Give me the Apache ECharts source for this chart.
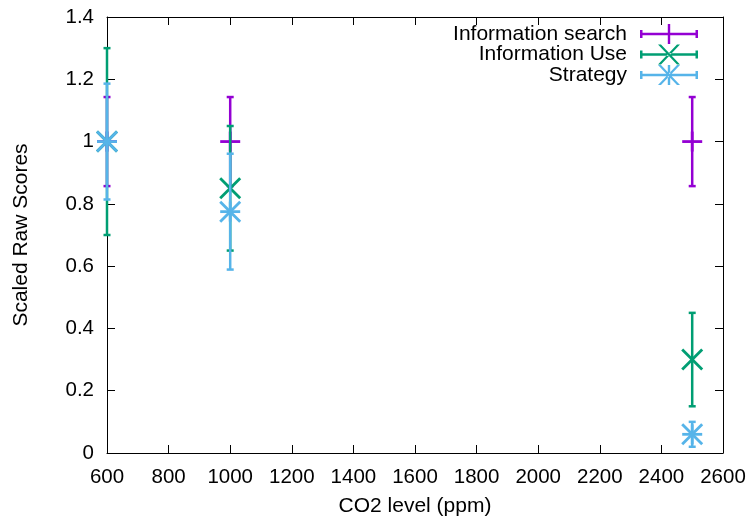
<!DOCTYPE html>
<html>
<head>
<meta charset="utf-8">
<script src="https://cdn.jsdelivr.net/npm/echarts@6/dist/echarts.min.js"></script>
<style>
  html, body { margin: 0; padding: 0; background: #fff; }
  #chart { width: 751px; height: 518px; }
</style>
</head>
<body>
<div id="chart"></div>
<script>
// CO2 levels on the x axis
var co2Levels = [600, 1000, 2500];

// mean scaled scores and their error half-widths
var infoSearch = [1, 1, 1];
var infoSearchErr = [0.143, 0.143, 0.143];
var infoUse = [1, 0.85, 0.3];
var infoUseErr = [0.3, 0.2, 0.15];
var strategy = [1, 0.775, 0.06];
var strategyErr = [0.186, 0.186, 0.04];

var xTickLabels = ['600', '800', '1000', '1200', '1400', '1600', '1800', '2000', '2200', '2400', '2600'];
var yTickLabels = ['0', '0.2', '0.4', '0.6', '0.8', '1', '1.2', '1.4'];

var FONT = '"Liberation Sans", Arial, Helvetica, sans-serif';

// legend icons, 58x20 box: bar with caps + marker
var BAR = 'M0 8.8H58V11.2H0Z M0 6H2.5V14H0Z M55.5 6H58V14H55.5Z';
var PLUS = 'M27.8 0H30.2V20H27.8Z M18 8.8H40V11.2H18Z';
var CROSS = 'M18 0L21 0L40 20L37 20Z M40 0L37 0L18 20L21 20Z';
var icons = {
    plus: 'path://' + BAR + ' ' + PLUS,
    cross: 'path://' + BAR + ' ' + CROSS,
    star: 'path://' + BAR + ' ' + PLUS + ' ' + CROSS
};

function toData(vals, errs) {
    return co2Levels.map(function (x, i) {
        return [x, vals[i], vals[i] - errs[i], vals[i] + errs[i]];
    });
}

function makeRender(color, marker) {
    return function (params, api) {
        var c = api.coord([api.value(0), api.value(1)]);
        var lo = api.coord([api.value(0), api.value(2)]);
        var hi = api.coord([api.value(0), api.value(3)]);
        var cap = 3.5, m = 10;
        var bar = { stroke: color, lineWidth: 2.5 };
        var mk = { stroke: color, lineWidth: 2.8 };
        var kids = [
            { type: 'line', shape: { x1: lo[0], y1: lo[1], x2: hi[0], y2: hi[1] }, style: bar },
            { type: 'line', shape: { x1: lo[0] - cap, y1: lo[1], x2: lo[0] + cap, y2: lo[1] }, style: bar },
            { type: 'line', shape: { x1: hi[0] - cap, y1: hi[1], x2: hi[0] + cap, y2: hi[1] }, style: bar }
        ];
        if (marker === 'plus' || marker === 'star') {
            kids.push({ type: 'line', shape: { x1: c[0] - m, y1: c[1], x2: c[0] + m, y2: c[1] }, style: mk });
            kids.push({ type: 'line', shape: { x1: c[0], y1: c[1] - m, x2: c[0], y2: c[1] + m }, style: mk });
        }
        if (marker === 'cross' || marker === 'star') {
            kids.push({ type: 'line', shape: { x1: c[0] - m, y1: c[1] - m, x2: c[0] + m, y2: c[1] + m }, style: mk });
            kids.push({ type: 'line', shape: { x1: c[0] - m, y1: c[1] + m, x2: c[0] + m, y2: c[1] - m }, style: mk });
        }
        return { type: 'group', children: kids };
    };
}

var seriesDefs = [
    { name: 'Information search', color: '#9400d3', marker: 'plus', vals: infoSearch, errs: infoSearchErr },
    { name: 'Information Use', color: '#009e73', marker: 'cross', vals: infoUse, errs: infoUseErr },
    { name: 'Strategy', color: '#56b4e9', marker: 'star', vals: strategy, errs: strategyErr }
];

var legends = seriesDefs.map(function (s, i) {
    return {
        orient: 'vertical',
        align: 'right',
        right: 53,
        top: 23.5 + i * 20.5,
        padding: 0,
        itemWidth: 58,
        itemHeight: 20,
        selectedMode: false,
        textStyle: { fontFamily: FONT, fontSize: 21, color: '#000', padding: [0, 8, 0, 0] },
        data: [{ name: s.name, icon: icons[s.marker] }]
    };
});

var axisCommon = {
    axisLine: { show: true, onZero: false, lineStyle: { color: '#000', width: 1 } },
    axisTick: { show: true, inside: true, length: 8, lineStyle: { color: '#000' } },
    splitLine: { show: false }
};

var chart = echarts.init(document.getElementById('chart'));
chart.setOption({
    animation: false,
    backgroundColor: '#fff',
    legend: legends,
    grid: { left: 107, right: 28, top: 17, bottom: 65, outerBoundsMode: 'none', containLabel: false },
    xAxis: [
        Object.assign({
            type: 'value', position: 'bottom', min: 600, max: 2600, interval: 200,
            name: 'CO2 level (ppm)', nameLocation: 'middle', nameGap: 43,
            nameTextStyle: { fontFamily: FONT, fontSize: 21, color: '#000' },
            axisLabel: {
                fontFamily: FONT, fontSize: 20.5, color: '#000', margin: 14,
                formatter: function (v) { return xTickLabels[Math.round((v - 600) / 200)]; }
            }
        }, axisCommon),
        Object.assign({
            type: 'value', position: 'top', min: 600, max: 2600, interval: 200,
            axisLabel: { show: false }
        }, axisCommon)
    ],
    yAxis: [
        Object.assign({
            type: 'value', position: 'left', min: 0, max: 1.4, interval: 0.2,
            name: 'Scaled Raw Scores', nameLocation: 'middle', nameGap: 75, nameRotate: 90,
            nameTextStyle: { fontFamily: FONT, fontSize: 21, color: '#000' },
            axisLabel: {
                fontFamily: FONT, fontSize: 20.5, color: '#000', margin: 13,
                formatter: function (v) { return yTickLabels[Math.round(v / 0.2)]; }
            }
        }, axisCommon),
        Object.assign({
            type: 'value', position: 'right', min: 0, max: 1.4, interval: 0.2,
            axisLabel: { show: false }
        }, axisCommon)
    ],
    series: seriesDefs.map(function (s) {
        return {
            type: 'custom',
            name: s.name,
            xAxisIndex: 0,
            yAxisIndex: 0,
            clip: false,
            itemStyle: { color: s.color },
            renderItem: makeRender(s.color, s.marker),
            data: toData(s.vals, s.errs)
        };
    })
});
</script>
</body>
</html>
